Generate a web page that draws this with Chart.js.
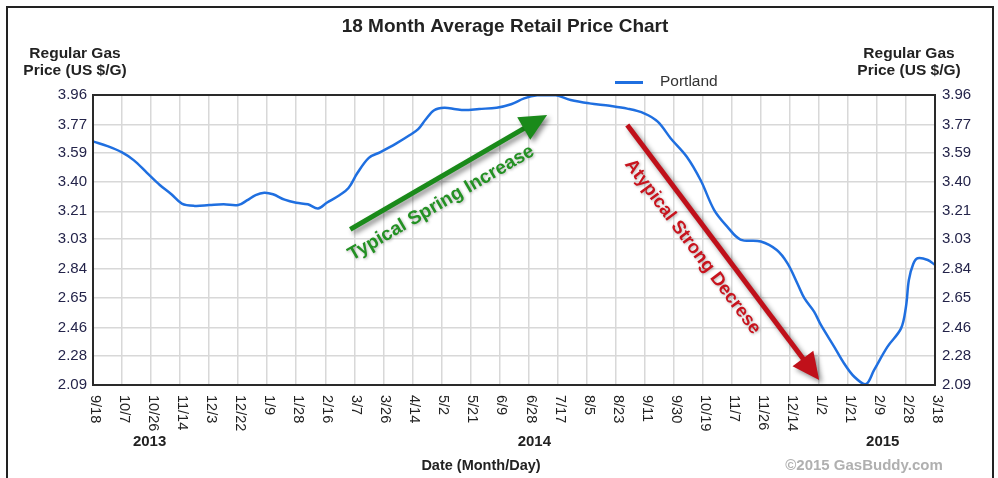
<!DOCTYPE html>
<html>
<head>
<meta charset="utf-8">
<script src="https://cdn.jsdelivr.net/npm/chart.js@4.4.1/dist/chart.umd.min.js"></script>
<style>
  html, body { margin: 0; padding: 0; background: #fff; }
  #wrap { width: 998px; height: 478px; }
</style>
</head>
<body>
<div id="wrap"><canvas id="grafico" width="998" height="478"></canvas></div>
<script>
// tick labels (one vertical grid line per label)
const xLabels = ['9/18', '10/7', '10/26', '11/14', '12/3', '12/22', '1/9', '1/28', '2/16', '3/7',
  '3/26', '4/14', '5/2', '5/21', '6/9', '6/28', '7/17', '8/5', '8/23', '9/11',
  '9/30', '10/19', '11/7', '11/26', '12/14', '1/2', '1/21', '2/9', '2/28', '3/18']
const yLabels = ['2.09', '2.28', '2.46', '2.65', '2.84', '3.03', '3.21', '3.40', '3.59', '3.77', '3.96']
const years = ['2013', '2014', '2015']
const yearPos = [1.95, 15.2, 27.2]

// Portland (x in tick units, 0 = 9/18)
const seriesName = 'Portland'
const pos = [0, 0.5, 1.0, 1.4, 1.85, 2.3, 2.7, 3.06, 3.5, 4.0,
  4.5, 5.0, 5.3, 5.6, 5.9, 6.2, 6.6, 7.0, 7.4, 7.75,
  8.05, 8.5, 8.8, 9.1, 9.5, 9.9, 10.45, 10.9, 11.2, 11.45,
  11.75, 12.1, 12.5, 12.8, 13.3, 13.9, 14.4, 14.85, 15.3, 15.9,
  16.45, 17.1, 17.8, 18.4, 18.98, 19.45, 19.9, 20.45, 20.93, 21.39,
  21.85, 22.3, 23.0, 23.55, 23.92, 24.26, 24.5, 24.84, 25.07, 25.53,
  25.87, 26.22, 26.62, 26.9, 27.36, 27.83, 28.0, 28.1, 28.25, 28.4,
  28.75, 29.0]
const price = [3.66, 3.63, 3.59, 3.54, 3.46, 3.38, 3.32, 3.26, 3.245, 3.25,
  3.255, 3.25, 3.28, 3.315, 3.33, 3.32, 3.285, 3.265, 3.255, 3.228,
  3.265, 3.315, 3.36, 3.455, 3.555, 3.592, 3.648, 3.70, 3.74, 3.80,
  3.862, 3.878, 3.868, 3.863, 3.87, 3.878, 3.90, 3.938, 3.958, 3.96,
  3.928, 3.906, 3.89, 3.872, 3.842, 3.788, 3.68, 3.562, 3.41, 3.22,
  3.11, 3.028, 3.015, 2.96, 2.874, 2.745, 2.65, 2.562, 2.477, 2.336,
  2.229, 2.143, 2.096, 2.186, 2.336, 2.455, 2.595, 2.767, 2.87, 2.907,
  2.896, 2.864]

// annotation arrows, in data units [pos, price]
const upArrow = [[8.86, 3.094], [15.64, 3.831]]
const downArrow = [[18.40, 3.767], [25.01, 2.122]]

const FONT = '"Liberation Sans", Arial, sans-serif'
const BLUE = '#1f6fe0'

function arrow(ctx, x1, y1, x2, y2, color) {
  const a = Math.atan2(y2 - y1, x2 - x1)
  const c = Math.cos(a), s = Math.sin(a)
  const head = 27, half = 13
  ctx.save()
  ctx.shadowColor = 'rgba(0,0,0,0.45)'
  ctx.shadowBlur = 5
  ctx.shadowOffsetX = 3
  ctx.shadowOffsetY = 3
  ctx.strokeStyle = color
  ctx.fillStyle = color
  ctx.lineWidth = 5
  ctx.beginPath()
  ctx.moveTo(x1, y1)
  ctx.lineTo(x2 - head * 0.8 * c, y2 - head * 0.8 * s)
  ctx.stroke()
  ctx.beginPath()
  ctx.moveTo(x2, y2)
  ctx.lineTo(x2 - head * c + half * s, y2 - head * s - half * c)
  ctx.lineTo(x2 - head * c - half * s, y2 - head * s + half * c)
  ctx.closePath()
  ctx.fill()
  ctx.restore()
}

function arrowText(ctx, p1, p2, text, color, font, along, perp) {
  const dx = p2.x - p1.x, dy = p2.y - p1.y
  const len = Math.hypot(dx, dy)
  const ux = dx / len, uy = dy / len
  const cx = (p1.x + p2.x) / 2 + along * ux - perp * uy
  const cy = (p1.y + p2.y) / 2 + along * uy + perp * ux
  ctx.save()
  ctx.translate(cx, cy)
  ctx.rotate(Math.atan2(dy, dx))
  ctx.font = font
  ctx.fillStyle = color
  ctx.textAlign = 'center'
  ctx.textBaseline = 'middle'
  ctx.shadowColor = 'rgba(0,0,0,0.3)'
  ctx.shadowBlur = 3
  ctx.shadowOffsetX = 1
  ctx.shadowOffsetY = 1
  ctx.fillText(text, 0, 0)
  ctx.restore()
}

const extras = {
  id: 'extras',
  afterDraw(chart) {
    const ctx = chart.ctx
    const xs = chart.scales.x, ys = chart.scales.y
    const area = chart.chartArea
    ctx.save()

    // outer frame
    ctx.strokeStyle = '#222'
    ctx.lineWidth = 2
    ctx.beginPath()
    ctx.moveTo(7, 478)
    ctx.lineTo(7, 7)
    ctx.lineTo(993, 7)
    ctx.lineTo(993, 478)
    ctx.stroke()

    // plot frame
    ctx.lineWidth = 2
    ctx.strokeStyle = '#2a2a2a'
    ctx.strokeRect(area.left, area.top, area.right - area.left, area.bottom - area.top)

    // title
    ctx.fillStyle = '#222'
    ctx.textAlign = 'center'
    ctx.textBaseline = 'middle'
    ctx.font = 'bold 19px ' + FONT
    ctx.fillText('18 Month Average Retail Price Chart', 505, 27)

    // axis titles
    ctx.font = 'bold 15.5px ' + FONT
    ctx.fillText('Regular Gas', 75, 54)
    ctx.fillText('Price (US $/G)', 75, 71)
    ctx.fillText('Regular Gas', 909, 54)
    ctx.fillText('Price (US $/G)', 909, 71)

    // legend
    const ds = chart.data.datasets[0]
    ctx.strokeStyle = ds.borderColor
    ctx.lineWidth = 3
    ctx.beginPath()
    ctx.moveTo(615, 82.5)
    ctx.lineTo(643, 82.5)
    ctx.stroke()
    ctx.font = '15.5px ' + FONT
    ctx.fillStyle = '#333'
    ctx.textAlign = 'left'
    ctx.fillText(ds.label, 660, 82)

    // x tick labels, rotated clockwise
    ctx.fillStyle = '#222'
    ctx.font = '14.5px ' + FONT
    xLabels.forEach((lab, i) => {
      const x = xs.getPixelForValue(i)
      ctx.save()
      ctx.translate(x + 2, area.bottom + 10)
      ctx.rotate(Math.PI / 2)
      ctx.textAlign = 'left'
      ctx.textBaseline = 'middle'
      ctx.fillText(lab, 0, 0)
      ctx.restore()
    })

    // years
    ctx.textAlign = 'center'
    ctx.font = 'bold 15px ' + FONT
    years.forEach((yr, i) => ctx.fillText(yr, xs.getPixelForValue(yearPos[i]), 442))

    ctx.font = 'bold 14.5px ' + FONT
    ctx.fillText('Date (Month/Day)', 481, 466)
    ctx.fillStyle = '#b0b0b0'
    ctx.font = 'bold 15px ' + FONT
    ctx.fillText('\u00a92015 GasBuddy.com', 864, 466)

    // annotations
    const px = p => ({ x: xs.getPixelForValue(p[0]), y: ys.getPixelForValue(p[1]) })
    const g1 = px(upArrow[0]), g2 = px(upArrow[1])
    const r1 = px(downArrow[0]), r2 = px(downArrow[1])
    arrow(ctx, g1.x, g1.y, g2.x, g2.y, '#1a8a1a')
    arrow(ctx, r1.x, r1.y, r2.x, r2.y, '#c0101a')
    arrowText(ctx, g1, g2, 'Typical Spring Increase', '#249124', 'bold 19px ' + FONT, -22, 23)
    arrowText(ctx, r1, r2, 'Atypical Strong Decrese', '#c8141e', 'bold 18.5px ' + FONT, -23, 21)

    ctx.restore()
  }
}

const yTickSet = s => { s.ticks = yLabels.map(l => ({ value: parseFloat(l) })) }

const canvas = document.getElementById('grafico')
const ctx = canvas.getContext('2d')

const chart = new Chart(ctx, {
  type: 'line',
  data: {
    datasets: [{
      label: seriesName,
      data: pos.map((p, i) => ({ x: p, y: price[i] })),
      borderColor: BLUE,
      backgroundColor: BLUE,
      borderWidth: 2.5,
      pointRadius: 0,
      tension: 0.35,
      fill: false,
      yAxisID: 'y'
    }]
  },
  options: {
    responsive: false,
    animation: false,
    layout: { padding: { top: 95, left: 0, right: 0, bottom: 0 } },
    plugins: {
      legend: { display: false },
      tooltip: { enabled: false }
    },
    scales: {
      x: {
        type: 'linear',
        min: 0,
        max: xLabels.length - 1,
        afterBuildTicks: s => { s.ticks = xLabels.map((_, i) => ({ value: i })) },
        afterFit: s => { s.height = 93 },
        ticks: { display: false },
        grid: { color: '#d8d8d8', lineWidth: 1.5, drawTicks: false },
        border: { display: false }
      },
      y: {
        type: 'linear',
        position: 'left',
        min: 2.09,
        max: 3.96,
        afterBuildTicks: yTickSet,
        afterFit: s => { s.width = 93 },
        ticks: {
          padding: 6,
          color: '#24244a',
          font: { family: FONT, size: 15 },
          callback: v => v.toFixed(2)
        },
        grid: { color: '#d8d8d8', lineWidth: 1.5, drawTicks: false },
        border: { display: false }
      },
      y2: {
        type: 'linear',
        position: 'right',
        min: 2.09,
        max: 3.96,
        afterBuildTicks: yTickSet,
        afterFit: s => { s.width = 63 },
        ticks: {
          padding: 7,
          color: '#24244a',
          font: { family: FONT, size: 15 },
          callback: v => v.toFixed(2)
        },
        grid: { display: false, drawTicks: false },
        border: { display: false }
      }
    }
  },
  plugins: [extras]
})
</script>
</body>
</html>
